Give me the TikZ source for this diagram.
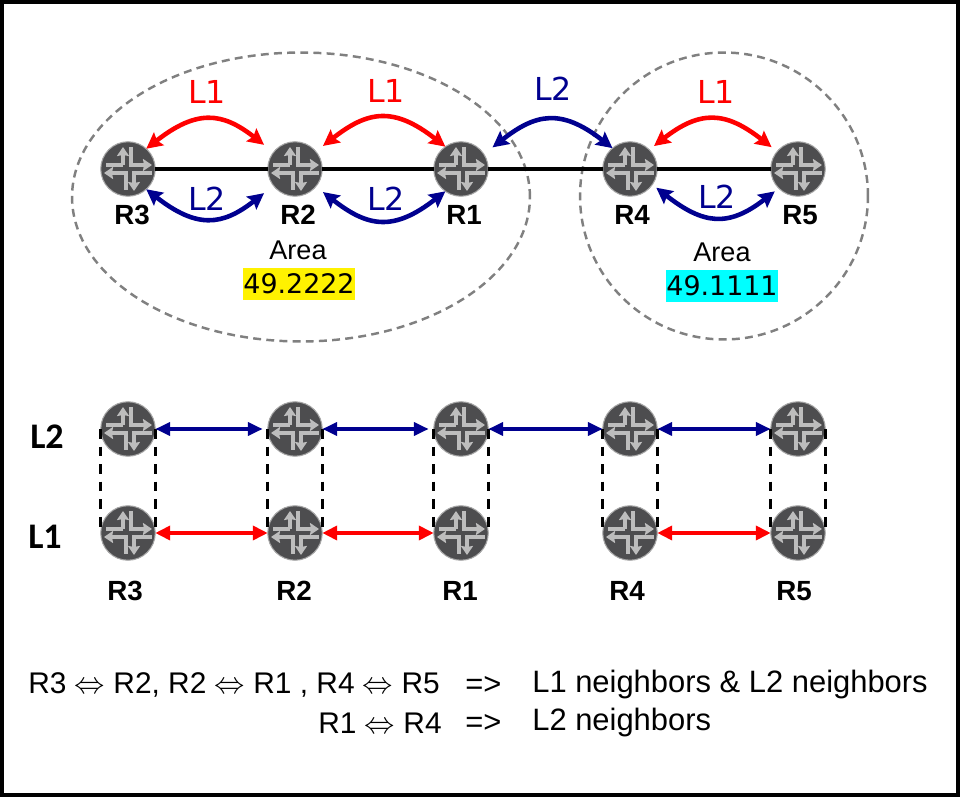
\documentclass[tikz,border=0pt]{standalone}
\usepackage{fontspec}
\setmainfont{Liberation Sans}
\newfontfamily\labelfont{DejaVu Sans}
\newfontfamily\levelfont{Carlito}
\usepackage{tikz}
\usetikzlibrary{arrows.meta,positioning,calc,shapes.geometric}

\definecolor{routerdisc}{HTML}{4D4D4F}
\definecolor{routerrim}{HTML}{A6A6A6}
\definecolor{routerarrow}{HTML}{BDBDBD}
\definecolor{navyline}{HTML}{00008F}
\definecolor{arealine}{HTML}{808080}
\definecolor{areacyan}{HTML}{00FFFF}

\newcommand{\iffsym}{$\Leftrightarrow$}

\begin{document}
\begin{tikzpicture}[
    x=0.02cm, y=-0.02cm,
    router/.style={circle, draw=routerrim, fill=routerdisc, line width=0.6pt,
                minimum size=1.09cm, inner sep=0pt, outer sep=0pt,
                path picture={
                  \begin{scope}[shift={(path picture bounding box.center)},
                      routerarrow, line width=1.9pt]
                    \draw[-{Stealth[length=1.8mm,width=2.4mm,inset=0.2mm]}] (-5,-4) -- (-5,-22);
                    \draw (-5,-4) -- (-22,-4);
                    \draw[-{Stealth[length=1.8mm,width=2.4mm,inset=0.2mm]}] (3,-22) -- (3,-4) -- (24,-4);
                    \draw[-{Stealth[length=1.8mm,width=2.4mm,inset=0.2mm]}] (-2,21) -- (-2,4) -- (-24,4);
                    \draw[-{Stealth[length=1.8mm,width=2.4mm,inset=0.2mm]}] (24,4) -- (6,4) -- (6,22);
                  \end{scope}}},
    rname/.style={font=\fontsize{15.8}{18}\selectfont\bfseries},
    area/.style={ellipse, draw=arealine, line width=1.4pt, inner sep=0pt,
                dash pattern=on 4.5pt off 3pt},
    areatext/.style={font=\fontsize{15.4}{18}\selectfont},
    areaid/.style={font=\labelfont\fontsize{15.3}{18}\selectfont, inner sep=0pt,
                minimum width=2.24cm, minimum height=0.66cm},
    link/.style={line width=2.3pt, black},
    redarr/.style={{Stealth[length=3.2mm,width=3.2mm,inset=0.5mm]}-{Stealth[length=3.2mm,width=3.2mm,inset=0.5mm]},
                line width=2.6pt, red},
    bluearr/.style={{Stealth[length=3.2mm,width=3.2mm,inset=0.5mm]}-{Stealth[length=3.2mm,width=3.2mm,inset=0.5mm]},
                line width=2.6pt, navyline},
    redflat/.style={{Stealth[length=3mm,width=2.8mm,inset=0mm]}-{Stealth[length=3mm,width=2.8mm,inset=0mm]},
                line width=2.2pt, red},
    blueflat/.style={{Stealth[length=3mm,width=2.6mm,inset=0mm]}-{Stealth[length=3mm,width=2.6mm,inset=0mm]},
                line width=2.2pt, navyline},
    stack/.style={line width=1.7pt, black, dash pattern=on 5.5pt off 4.5pt},
    lvl/.style={font=\labelfont\fontsize{18}{21}\selectfont},
    side/.style={font=\levelfont\fontsize{20.5}{24}\selectfont\bfseries},
    note/.style={anchor=west, inner sep=0pt, font=\fontsize{17.6}{21}\selectfont},
    pairs/.style={anchor=west, inner sep=0pt, font=\fontsize{17}{21}\selectfont},
    arch/.style={out=38, in=142, looseness=1.3},
    sag/.style={out=-38, in=-142, looseness=1.3},
]
\useasboundingbox (0,0) rectangle (968,797);

% --- Frame ---
\node[draw=black, line width=2.27pt, minimum width=19.12cm, minimum height=15.86cm,
      inner sep=0pt] (frame) at (480,398.5) {};

% --- Areas ---
\node[area, minimum width=9.16cm, minimum height=5.78cm] (left) at (301,197) {};
\node[area, minimum width=5.76cm, minimum height=5.74cm] (right) at (724,196) {};

% --- Upper routers ---
\node[router] (r3) at (128,169) {};
\node[router] (r2) at (295,169) {};
\node[router] (r1) at (461,169) {};
\node[router] (r4) at (630,169) {};
\node[router] (r5) at (798,169) {};
\node[rname] (n3) at (132,215) {R3};
\node[rname] (n2) at (298,215) {R2};
\node[rname] (n1) at (464,215) {R1};
\node[rname] (n4) at (632,215) {R4};
\node[rname] (n5) at (800,215) {R5};

\draw[link] (r3) -- (r2);
\draw[link] (r2) -- (r1);
\draw[link] (r1) -- (r4);
\draw[link] (r4) -- (r5);

\draw[redarr, shorten >=2.4mm] (r3.48) to[arch] (r2.142);
\draw[redarr, shorten <=1.8mm] (r2.40) to[arch] (r1.125);
\draw[redarr, shorten <=1.2mm, shorten >=1.4mm] (r4.45) to[arch] (r5.140);
\draw[bluearr, shorten <=2.2mm] (r1.33) to[arch] (r4.130);
\draw[bluearr, shorten >=2.4mm] (r3.-48) to[sag] (r2.-142);
\draw[bluearr, shorten <=1.8mm] (r2.-40) to[sag] (r1.-125);
\draw[bluearr, shorten <=1mm, shorten >=1mm] (r4.-35) to[sag] (r5.-135);

\node[lvl, text=red] (a1) at (207,92) {L1};
\node[lvl, text=red] (a2) at (386,91) {L1};
\node[lvl, text=red] (a3) at (716,92) {L1};
\node[lvl, text=navyline] (b1) at (207,199) {L2};
\node[lvl, text=navyline] (b2) at (386,199) {L2};
\node[lvl, text=navyline] (b3) at (553,89) {L2};
\node[lvl, text=navyline] (b4) at (717,197) {L2};

\node[areatext] (t1) at (298,250) {Area};
\node[areatext] (t2) at (722,252) {Area};
\node[areaid, fill=yellow] (id1) at (299,284) {49.2222};
\node[areaid, fill=areacyan] (id2) at (722,286) {49.1111};

% --- Lower routers ---
\foreach \name/\xpos in {3/128, 2/295, 1/461, 4/630, 5/798} {
  \node[router] (u\name) at (\xpos,429) {};
  \node[router] (d\name) at (\xpos,533) {};
  \draw[stack] (u\name.west) -- (d\name.west);
  \draw[stack] (u\name.east) -- (d\name.east);
}
\node[rname] (m3) at (125,591) {R3};
\node[rname] (m2) at (294,591) {R2};
\node[rname] (m1) at (460,591) {R1};
\node[rname] (m4) at (627,591) {R4};
\node[rname] (m5) at (794,591) {R5};

\draw[blueflat, shorten >=1mm] (u3) -- (u2);
\draw[blueflat, shorten >=1mm] (u2) -- (u1);
\draw[blueflat] (u1) -- (u4);
\draw[blueflat] (u4) -- (u5);
\draw[redflat] (d3) -- (d2);
\draw[redflat] (d2) -- (d1);
\draw[redflat] (d4) -- (d5);

\node[side] (s2) at (47,437) {L2};
\node[side] (s1) at (45,537) {L1};

% --- Summary ---
\node[pairs] (w1) at (28,685) {R3 \iffsym{} R2, R2 \iffsym{} R1 , R4 \iffsym{} R5};
\node[note] (w2) at (465,685) {=>};
\node[note] (w3) at (532,685) {L1 neighbors \& L2 neighbors};
\node[pairs] (w4) at (318,723) {R1 \iffsym{} R4};
\node[note] (w5) at (465,723) {=>};
\node[note] (w6) at (532,723) {L2 neighbors};

\end{tikzpicture}
\end{document}
